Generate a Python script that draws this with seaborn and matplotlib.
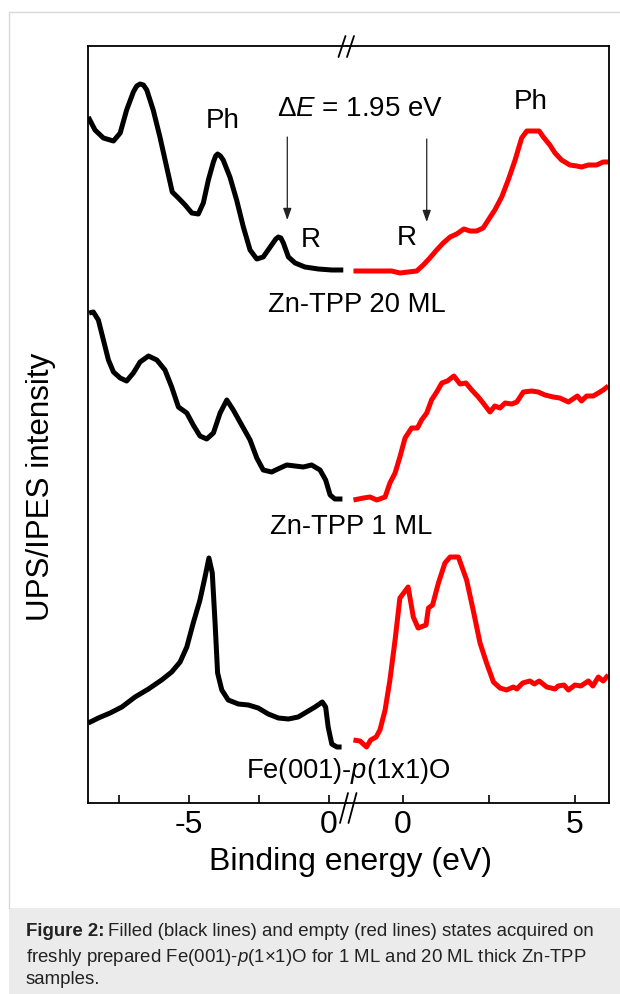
import matplotlib
matplotlib.use('Agg')
import matplotlib.pyplot as plt
from matplotlib.lines import Line2D
from matplotlib.patches import Rectangle
import seaborn as sns

# ---- filled states (UPS, black), x in eV as drawn on the left panel ----
ups20_x = [-8.60, -8.36, -8.06, -7.70, -7.46, -7.23, -6.99, -6.87, -6.75, -6.63, -6.51,
           -6.28, -6.04, -5.80, -5.60, -5.38, -5.14, -4.90, -4.67, -4.49, -4.31, -4.13,
           -4.05, -3.98, -3.88, -3.78, -3.54, -3.30, -3.06, -2.82, -2.58, -2.35, -2.05,
           -1.90, -1.81, -1.72, -1.63, -1.45, -1.21, -0.86, -0.38, 0.10, 0.51]
ups20_y = [6.86, 6.73, 6.65, 6.62, 6.70, 6.93, 7.11, 7.17, 7.19, 7.18, 7.13,
           6.93, 6.66, 6.36, 6.11, 6.05, 5.98, 5.90, 5.89, 6.00, 6.23, 6.41,
           6.47, 6.49, 6.47, 6.43, 6.26, 6.03, 5.76, 5.53, 5.44, 5.46, 5.58,
           5.64, 5.66, 5.65, 5.60, 5.46, 5.40, 5.36, 5.34, 5.33, 5.33]

ups1_x = [-8.57, -8.42, -8.24, -8.06, -7.88, -7.70, -7.46, -7.23, -6.99, -6.75, -6.45,
          -6.15, -5.86, -5.62, -5.38, -5.08, -4.85, -4.61, -4.37, -4.13, -3.89, -3.65,
          -3.42, -3.12, -2.82, -2.58, -2.35, -2.05, -1.75, -1.51, -1.21, -0.92, -0.62,
          -0.32, -0.12, 0.04, 0.21, 0.48]
ups1_y = [4.90, 4.91, 4.83, 4.63, 4.43, 4.31, 4.25, 4.22, 4.30, 4.41, 4.47,
          4.43, 4.33, 4.16, 3.96, 3.90, 3.78, 3.67, 3.64, 3.70, 3.90, 4.03,
          3.93, 3.78, 3.63, 3.45, 3.33, 3.31, 3.35, 3.38, 3.37, 3.36, 3.38,
          3.33, 3.23, 3.08, 3.04, 3.04]

upsfe_x = [-8.60, -8.24, -7.82, -7.40, -6.93, -6.45, -5.98, -5.62, -5.32, -5.08, -4.85,
           -4.61, -4.43, -4.29, -4.17, -4.07, -3.98, -3.83, -3.60, -3.24, -2.88, -2.53,
           -2.17, -1.81, -1.45, -1.10, -0.80, -0.50, -0.24, -0.12, -0.03, 0.10, 0.28, 0.45]
upsfe_y = [0.80, 0.85, 0.90, 0.96, 1.06, 1.14, 1.23, 1.31, 1.41, 1.56, 1.80,
           2.03, 2.26, 2.45, 2.30, 1.80, 1.30, 1.13, 1.03, 0.99, 0.98, 0.95,
           0.89, 0.85, 0.84, 0.86, 0.91, 0.96, 1.01, 0.96, 0.76, 0.59, 0.56, 0.56]

# ---- empty states (IPES, red), x in eV as drawn on the right panel ----
ipes20_x = [-1.44, -1.06, -0.67, -0.33, -0.09, 0.15, 0.40, 0.59, 0.78, 0.98, 1.17,
            1.37, 1.56, 1.77, 1.95, 2.14, 2.33, 2.48, 2.67, 2.87, 3.06, 3.26,
            3.45, 3.60, 3.79, 3.96, 4.08, 4.27, 4.42, 4.61, 4.85, 5.05, 5.19,
            5.39, 5.63, 5.82, 5.97]
ipes20_y = [5.32, 5.32, 5.32, 5.32, 5.30, 5.31, 5.32, 5.38, 5.45, 5.53, 5.60,
            5.66, 5.69, 5.74, 5.72, 5.72, 5.75, 5.83, 5.93, 6.06, 6.23, 6.43,
            6.65, 6.72, 6.72, 6.72, 6.66, 6.58, 6.50, 6.43, 6.38, 6.37, 6.36,
            6.38, 6.38, 6.41, 6.41]

ipes1_x = [-1.44, -1.15, -0.96, -0.76, -0.52, -0.38, -0.23, -0.09, 0.06, 0.25, 0.42,
           0.54, 0.69, 0.83, 0.98, 1.13, 1.29, 1.48, 1.66, 1.83, 2.00, 2.19,
           2.33, 2.53, 2.67, 2.82, 2.97, 3.16, 3.31, 3.50, 3.74, 3.93, 4.13,
           4.37, 4.56, 4.81, 5.07, 5.19, 5.34, 5.53, 5.68, 5.82, 5.97]
ipes1_y = [3.03, 3.05, 3.06, 3.03, 3.06, 3.20, 3.30, 3.46, 3.65, 3.75, 3.75,
           3.83, 3.90, 4.03, 4.11, 4.20, 4.22, 4.27, 4.19, 4.20, 4.13, 4.06,
           4.00, 3.91, 3.97, 3.95, 4.00, 3.99, 4.01, 4.11, 4.12, 4.11, 4.08,
           4.06, 4.05, 4.01, 4.07, 4.02, 4.07, 4.07, 4.10, 4.13, 4.17]

ipesfe_x = [-1.44, -1.25, -1.06, -0.94, -0.78, -0.67, -0.52, -0.38, -0.23, -0.09, 0.15,
            0.30, 0.44, 0.67, 0.74, 0.86, 1.03, 1.22, 1.37, 1.61, 1.85, 2.04,
            2.24, 2.43, 2.63, 2.82, 3.01, 3.21, 3.31, 3.48, 3.69, 3.82, 3.96,
            4.18, 4.42, 4.51, 4.68, 4.81, 5.00, 5.17, 5.39, 5.52, 5.68, 5.82, 5.97]
ipesfe_y = [0.63, 0.62, 0.56, 0.63, 0.66, 0.73, 0.93, 1.23, 1.63, 2.05, 2.16,
            1.86, 1.75, 1.78, 1.95, 1.98, 2.20, 2.40, 2.46, 2.46, 2.23, 1.93,
            1.60, 1.40, 1.21, 1.15, 1.13, 1.16, 1.14, 1.20, 1.22, 1.19, 1.22,
            1.16, 1.14, 1.17, 1.18, 1.13, 1.18, 1.17, 1.22, 1.17, 1.26, 1.22, 1.28]

left_ticks = [-7.5, -5, -2.5, 0]
left_ticklabels = ['', '-5', '', '0']
right_ticks = [0, 2.5, 5]
right_ticklabels = ['0', '', '5']

sns.set_style('white')
plt.rcParams['font.family'] = ['Liberation Sans', 'DejaVu Sans']
plt.rcParams['text.color'] = 'black'
plt.rcParams['mathtext.fontset'] = 'custom'
plt.rcParams['mathtext.rm'] = 'Liberation Sans'
plt.rcParams['mathtext.it'] = 'Liberation Sans:italic'
plt.rcParams['mathtext.bf'] = 'Liberation Sans:bold'

W, H = 620, 994
fig = plt.figure(figsize=(W / 100, H / 100), dpi=100)


def fx(px):
    return px / W


def fy(py):
    return 1 - py / H


ax_top, ax_bot, x_left, x_brk, x_right = 46, 803, 88, 347, 609
axl = fig.add_axes([fx(x_left), fy(ax_bot), fx(x_brk - x_left), (ax_bot - ax_top) / H])
axr = fig.add_axes([fx(x_brk), fy(ax_bot), fx(x_right - x_brk), (ax_bot - ax_top) / H])

line_kw = dict(linewidth=3.6, sort=False, estimator=None,
               solid_joinstyle='round', solid_capstyle='butt')
for x, y in [(ups20_x, ups20_y), (ups1_x, ups1_y), (upsfe_x, upsfe_y)]:
    sns.lineplot(x=x, y=y, ax=axl, color='black', **line_kw)
for x, y in [(ipes20_x, ipes20_y), (ipes1_x, ipes1_y), (ipesfe_x, ipesfe_y)]:
    sns.lineplot(x=x, y=y, ax=axr, color='#ff0000', **line_kw)

axl.set_xlim(-8.61, 0.643)
axr.set_xlim(-1.628, 5.99)
for ax in (axl, axr):
    ax.set_ylim(0, 7.57)
    ax.set_yticks([])
    ax.set_xlabel('')
    ax.set_ylabel('')
    ax.patch.set_alpha(0)
    for s in ax.spines.values():
        s.set_linewidth(1.3)
        s.set_color('black')
    ax.tick_params(axis='x', direction='in', length=6, width=1.2, labelsize=23,
                   pad=5, bottom=True, colors='black')
axl.spines['right'].set_visible(False)
axr.spines['left'].set_visible(False)
axl.set_xticks(left_ticks)
axl.set_xticklabels(left_ticklabels)
axr.set_xticks(right_ticks)
axr.set_xticklabels(right_ticklabels)

# peak annotations
ann = dict(fontsize=20, ha='center', va='center', color='black')
axl.text(-3.79, 6.82, 'Ph', **ann)
axl.text(-0.64, 5.63, 'R', **ann)
axr.text(3.70, 7.01, 'Ph', **ann)
axr.text(0.12, 5.65, 'R', **ann)
arrow = dict(arrowstyle='-|>,head_length=0.7,head_width=0.25', lw=0.9,
             color='#222222', mutation_scale=10, shrinkA=0, shrinkB=0)
axl.annotate('', xy=(-1.49, 5.83), xytext=(-1.49, 6.66), arrowprops=arrow)
axr.annotate('', xy=(0.69, 5.81), xytext=(0.69, 6.64), arrowprops=arrow)
fig.text(fx(360), fy(109), 'Δ$\\mathit{E}$ = 1.95 eV', **ann)

# sample labels
lab = dict(fontsize=19.7, ha='center', va='center', color='black')
fig.text(fx(357), fy(305), 'Zn-TPP 20 ML', **lab)
fig.text(fx(351), fy(527), 'Zn-TPP 1 ML', **lab)
fig.text(fx(348), fy(771), 'Fe(001)-$\\mathit{p}$(1x1)O', **lab)

fig.text(fx(41), fy(487), 'UPS/IPES intensity', fontsize=22.6, rotation=90,
         ha='center', va='center', color='black')
fig.text(fx(350), fy(862), 'Binding energy (eV)', fontsize=23, ha='center',
         va='center', color='black')

# axis break marks
for dx in (0, 8.5):
    fig.add_artist(Line2D([fx(338.5 + dx), fx(345.5 + dx)], [fy(57), fy(36)],
                          color='black', lw=1.3))
    fig.add_artist(Line2D([fx(340 + dx), fx(348 + dx)], [fy(823), fy(793)],
                          color='black', lw=1.3))

# page frame and caption box
fig.add_artist(Line2D([fx(9), fx(9)], [fy(12), fy(908)], color='#d8d8d8', lw=1))
fig.add_artist(Line2D([fx(9), fx(620)], [fy(12), fy(12)], color='#d8d8d8', lw=1))
fig.add_artist(Rectangle((fx(9), 0), 1 - fx(9), fy(908), transform=fig.transFigure,
                         facecolor='#ebebeb', edgecolor='none', zorder=-1))
cap = dict(fontsize=13.4, ha='left', va='center', color='#222222')
head = fig.text(fx(26), fy(932), 'Figure 2:', fontweight='bold', **cap)
renderer = fig.canvas.get_renderer()
bb = head.get_window_extent(renderer=renderer)
fig.text(bb.x1 / W + fx(4), fy(932), 'Filled (black lines) and empty (red lines) '
         'states acquired on', **cap)
fig.text(fx(26), fy(957), 'freshly prepared Fe(001)-$\\mathit{p}$(1×1)O for 1 ML and 20 ML '
         'thick Zn-TPP', **cap)
fig.text(fx(26), fy(980), 'samples.', **cap)

fig.savefig('out.png', dpi=100)
